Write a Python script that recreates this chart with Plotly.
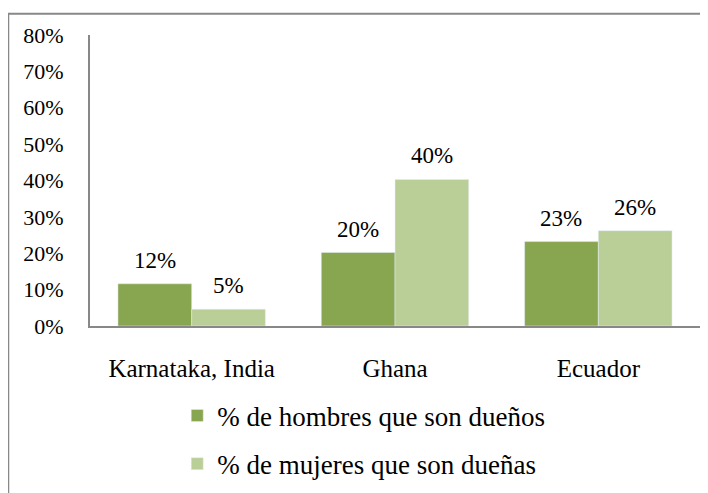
import plotly.graph_objects as go

regiones = ["Karnataka, India", "Ghana", "Ecuador"]
hombres = [0.116, 0.202, 0.232]
mujeres = [0.046, 0.403, 0.262]
ticks_y = [0, 0.1, 0.2, 0.3, 0.4, 0.5, 0.6, 0.7, 0.8]

fuente = "Liberation Serif"

fig = go.Figure()
fig.add_trace(go.Bar(x=regiones, y=hombres, name="% de hombres que son dueños",
                     marker_color="#88A54F", legendgroup="h"))
fig.add_trace(go.Bar(x=regiones, y=mujeres, name="% de mujeres que son dueñas",
                     marker_color="#BACF97", legendgroup="m"))

# etiquetas de valor encima de cada barra
for serie, desplaz in [(hombres, -37), (mujeres, 37)]:
    for reg, val in zip(regiones, serie):
        fig.add_annotation(x=reg, y=val, text=f"{val:.0%}", showarrow=False,
                           xshift=desplaz, yshift=9, yanchor="bottom",
                           font=dict(size=23, family=fuente, color="black"))

fig.update_layout(
    width=708, height=493,
    margin=dict(l=82, r=16, t=27, b=161),
    paper_bgcolor="white", plot_bgcolor="white",
    font=dict(family=fuente, size=24, color="black"),
    barmode="group", bargap=0.275, bargroupgap=0,
    showlegend=True,
    legend=dict(x=0.143, y=-0.225, xanchor="left", yanchor="top",
                orientation="v", traceorder="grouped", tracegroupgap=10,
                font=dict(size=27, family=fuente)),
    xaxis=dict(showline=True, linecolor="#888888", linewidth=2,
               showgrid=False, ticks="", ticklabelstandoff=19,
               automargin=False, tickfont=dict(family=fuente, size=25)),
    yaxis=dict(range=[0, 0.8], tickvals=ticks_y, tickformat=".0%",
               showline=True, linecolor="#888888", linewidth=2,
               showgrid=False, zeroline=False, ticks="",
               ticklabelstandoff=20, automargin=False,
               tickfont=dict(family=fuente, size=22)),
    shapes=[dict(type="rect", xref="paper", yref="paper",
                 x0=-0.134, x1=1.2, y0=-0.7, y1=1.073,
                 line=dict(color="#888888", width=2))],
)

fig.write_html("out.html")
